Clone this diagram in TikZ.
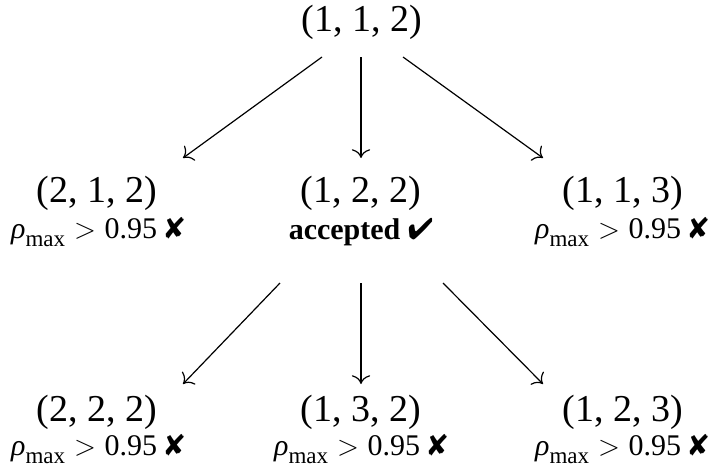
\documentclass[tikz,border=0pt]{standalone}
\usepackage{fontspec}
\setmainfont{Liberation Serif}
\usepackage{pifont}
\usetikzlibrary{calc,arrows.meta}
\newcommand\rhomax{\textit{ρ}\raisebox{-0.25em}{\fontsize{11.5}{13}\selectfont max}\hspace{0.3em}$>$\hspace{0.28em}0.95\hspace{0.25em}\ding{56}}
\newcommand\accok{\textbf{accepted}\hspace{0.25em}\ding{52}}
\begin{document}
\begin{tikzpicture}[x=0.5pt,y=-0.5pt,
  tuple/.style={font=\fontsize{19}{21}\selectfont, inner sep=0pt},
  lbl/.style={font=\fontsize{15}{17}\selectfont, inner sep=0pt},
  arr/.style={-{To[scale=1.5]}, line width=0.6pt}]
\useasboundingbox (0,0) rectangle (710,466);
% top
\node[tuple] (t0) at (362,22) {(1, 1, 2)};
% row 2
\node[tuple] (t1) at (97,193) {(2, 1, 2)};
\node[tuple] (t2) at (361,193) {(1, 2, 2)};
\node[tuple] (t3) at (623,193) {(1, 1, 3)};
\node[lbl] (l1) at (98,232) {\rhomax};
\node[lbl] (l2) at (361,232) {\accok};
\node[lbl] (l3) at (622,232) {\rhomax};
% row 3
\node[tuple] (t4) at (97,412) {(2, 2, 2)};
\node[tuple] (t5) at (361,412) {(1, 3, 2)};
\node[tuple] (t6) at (623,412) {(1, 2, 3)};
\node[lbl] (l4) at (98,449) {\rhomax};
\node[lbl] (l5) at (361,449) {\rhomax};
\node[lbl] (l6) at (622,449) {\rhomax};
% arrows, layer 1
\draw[arr] ($(t0)+(-40,35)$) -- ($(t1)+(86,-35)$);
\draw[arr] ($(t0)+(-1,35)$) -- ($(t2)+(0,-35)$);
\draw[arr] ($(t0)+(41,35)$) -- ($(t3)+(-80,-35)$);
% arrows, layer 2
\draw[arr] ($(l2)+(-81,51)$) -- ($(t4)+(86,-28)$);
\draw[arr] ($(l2)+(0,51)$) -- ($(t5)+(0,-28)$);
\draw[arr] ($(l2)+(82,51)$) -- ($(t6)+(-80,-28)$);
\end{tikzpicture}
\end{document}
